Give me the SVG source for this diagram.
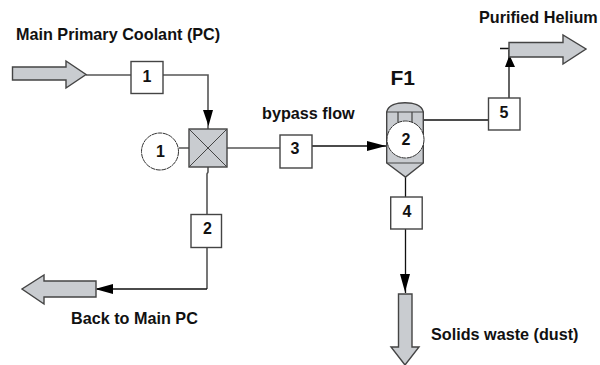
<svg xmlns="http://www.w3.org/2000/svg" width="600" height="365" viewBox="0 0 600 365">
<style>
text{font-family:"Liberation Sans",Arial,sans-serif;font-weight:bold;fill:#111}
.l{font-size:16.200px}
.n{font-size:16px;text-anchor:middle}
.c{fill:none;stroke:#111;stroke-width:1.3}
.g{fill:none;stroke:#555;stroke-width:1.6}
.b{fill:#fff;stroke:#444;stroke-width:1.4}
.p{fill:#c9ccd0;stroke:#444;stroke-width:1.4}
.o{fill:#fff;stroke:#333;stroke-width:1;stroke-dasharray:5 .6}
.h{fill:#000}
</style>
<rect width="600" height="365" fill="#fff"/>
<g id="connectors">
<path class="g" d="M86 75H131M163 75H208V129M179 148H189M227 148H280M208 167V172L207 174V214M207 247V289"/>
<path class="c" d="M207 289H97M312 146H386M423 120H488M509 98V50M500 48.500H509M405.500 177V197M405.500 229V293"/>
<path class="h" d="M203 110H213L208.500 126ZM386 146L367 141V151ZM509.500 55L505 67H515ZM405 292L400 274H410ZM95 289L113 284V294Z"/>
</g>
<g id="stream-in"><path class="p" d="M12.500 67H66V61L86 74.500L66 88V80H12.500Z"/></g>
<g id="stream-purified"><path class="p" d="M509 42.500H563V35L586 49L563 64V57H509Z"/></g>
<g id="stream-back"><path class="p" d="M96 281H44V275L22 289L44 304V297H96Z"/></g>
<g id="stream-waste"><path class="p" d="M398.500 294H412V347H419L405 365L391 347H398.500Z"/></g>
<g id="box1"><rect class="b" x="131" y="61.500" width="32" height="32"/><text class="n" x="147" y="81.500">1</text></g>
<g id="box2"><rect class="b" x="191" y="214.500" width="30.500" height="33"/><text class="n" x="207.500" y="233.500">2</text></g>
<g id="box3"><rect class="b" x="280" y="135" width="32" height="33"/><text class="n" x="295" y="153.500">3</text></g>
<g id="box4"><rect class="b" x="390.700" y="197" width="31.500" height="32"/><text class="n" x="407" y="216.500">4</text></g>
<g id="box5"><rect class="b" x="488.500" y="98" width="31.500" height="32"/><text class="n" x="504" y="117.500">5</text></g>
<g id="mixer"><rect class="p" x="189" y="129" width="38" height="38" stroke-width="1.800"/><path d="M189 129L227 167M227 129L189 167" stroke="#444" stroke-width="1" fill="none"/></g>
<g id="circle1"><circle class="o" cx="160" cy="151.500" r="18.500"/><text class="n" x="160.500" y="156.500">1</text></g>
<g id="vessel-F1">
<path class="p" d="M386.700 112C388 105 397 102.700 405 102.700C413 102.700 422 105 423.300 112V163L405.500 177L386.700 163Z"/>
<path d="M386.700 112H423.300M386.700 163H423.300M398 112V125M412 112V125" stroke="#444" stroke-width="1.200" fill="none"/>
<circle class="o" cx="405.500" cy="139.500" r="18.500"/><text class="n" x="406" y="144.500">2</text>
</g>
<g id="labels">
<text class="l" x="16" y="40">Main Primary Coolant (PC)</text>
<text class="l" x="262" y="119">bypass flow</text>
<text x="390.500" y="85" font-size="21">F1</text>
<text class="l" x="479" y="23">Purified Helium</text>
<text class="l" x="71" y="324">Back to Main PC</text>
<text class="l" x="431" y="340">Solids waste (dust)</text>
</g>
</svg>
